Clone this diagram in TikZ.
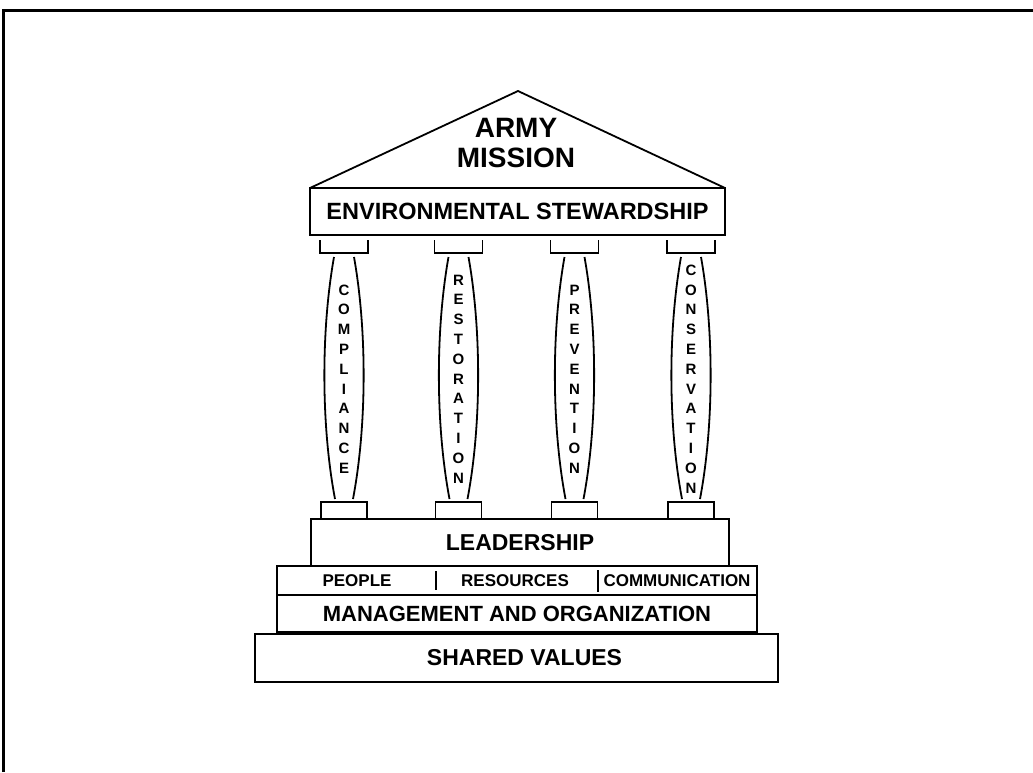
\documentclass[tikz,border=0pt]{standalone}
\usepackage{fontspec}
\setmainfont{Liberation Sans}
\usepackage{tikz}
\usetikzlibrary{positioning}

\begin{document}
\begin{tikzpicture}[x=1pt,y=-1pt,
  line width=1.8pt,
  layer/.style={draw,inner sep=0pt,outer sep=0pt,align=center,
    font=\fontsize{23}{25}\selectfont\bfseries},
  subtext/.style={inner sep=0pt,font=\fontsize{17}{19}\selectfont\bfseries},
  shafttext/.style={inner sep=0pt,align=center,
    font=\fontsize{15}{19.8}\selectfont\bfseries}]
\useasboundingbox (0,0) rectangle (1033,772);
% frame of the page
\draw[line width=3pt] (3,772) -- (3,10) -- (1033,10);
% roof
\coordinate (roofl) at (310,188);
\coordinate (roofr) at (725,188);
\coordinate (apex) at (518,91);
\draw (roofl) -- (apex) -- (roofr);
\node[inner sep=0pt,align=center,font=\fontsize{28}{30}\selectfont\bfseries] (mission) at (516,143) {ARMY\\MISSION};
\node[layer,minimum width=415pt,minimum height=47pt,font=\fontsize{23.5}{25}\selectfont\bfseries] (es) at (517.5,211.5) {ENVIRONMENTAL STEWARDSHIP};
% pillars
\foreach \cx/\nm/\word in {344/comp/{C\\O\\M\\P\\L\\I\\A\\N\\C\\E},
    458.5/rest/{R\\E\\S\\T\\O\\R\\A\\T\\I\\O\\N},
    574.5/prev/{P\\R\\E\\V\\E\\N\\T\\I\\O\\N},
    691/cons/{C\\O\\N\\S\\E\\R\\V\\A\\T\\I\\O\\N}}{
  \draw (\cx-24,240) -- (\cx-24,253) -- (\cx+24,253) -- (\cx+24,240);
  \draw (\cx-10,257) .. controls (\cx-23,330) and (\cx-23,425) .. (\cx-9,499);
  \draw (\cx+10,257) .. controls (\cx+23,330) and (\cx+23,425) .. (\cx+9,499);
  \draw (\cx-23,519) -- (\cx-23,502) -- (\cx+23,502) -- (\cx+23,519);
  \node[shafttext] (\nm) at (\cx,379) {\word};
}
% foundation
\node[layer,minimum width=418pt,minimum height=47pt] (lead) at (520,542.5) {LEADERSHIP};
\node[layer,minimum width=480pt,minimum height=29pt,below=0pt of lead,xshift=-3pt] (res) {};
\node[layer,minimum width=480pt,minimum height=37pt,below=0pt of res,
  font=\fontsize{22}{24}\selectfont\bfseries] (mgmt) {MANAGEMENT AND ORGANIZATION};
\node[layer,minimum width=523pt,minimum height=48pt,below=2pt of mgmt,xshift=-0.5pt] (values) {};
\node[layer,draw=none] (valtext) at ([xshift=8pt]values.center) {SHARED VALUES};
\node[subtext] (people) at (357,581) {PEOPLE};
\node[subtext] (resources) at (515,581) {RESOURCES};
\node[subtext] (comm) at (677,581) {COMMUNICATION};
\draw (436,571) -- (436,590);
\draw (598,570) -- (598,592);
\end{tikzpicture}
\end{document}
